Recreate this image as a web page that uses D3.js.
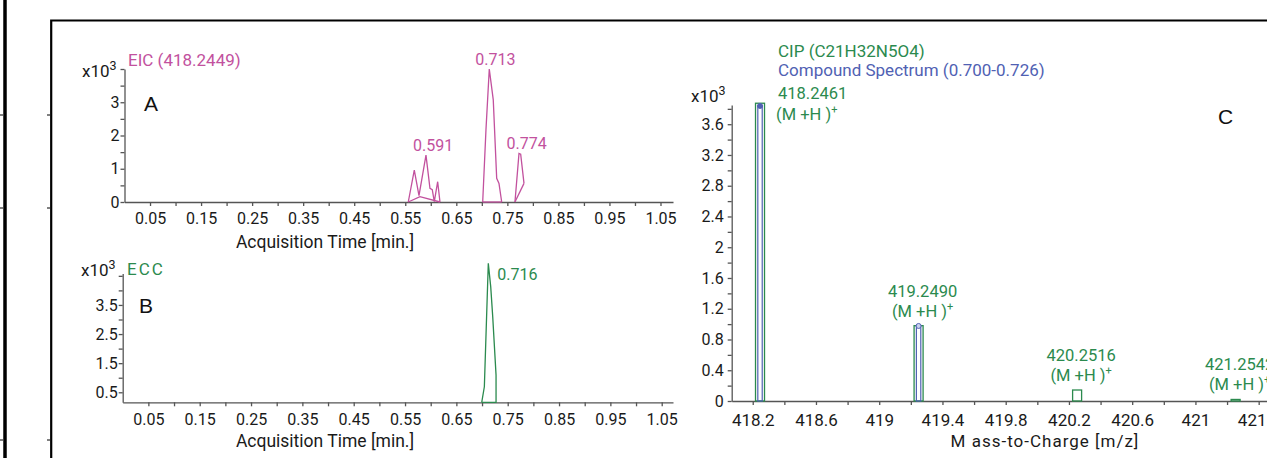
<!DOCTYPE html>
<html>
  <head>
    <meta charset="utf-8">
    <title>EIC / ECC / compound spectrum</title>
    <script src="https://cdn.jsdelivr.net/npm/d3@7"></script>
    <style>
body { margin: 0; background: #fff; }
text {
    font-family: Roboto, "Liberation Sans", sans-serif;
    fill: #1a1a1a;
}
.axis path, .axis line {
    stroke: #555;
    stroke-width: 1.3;
}
.axis text {
    font-size: 16px;
    fill: #1a1a1a;
}
.letter {
    font-family: "Liberation Sans", Arial, sans-serif;
    font-size: 21px;
    fill: #111;
}
    </style>
  </head>
  <body>
    <script>
// panel A: EIC (418.2449), [time, intensity x10^3]
var eicPeaks = [
  [[0.5559, 0], [0.5677, 0.96], [0.5769, 0.19], [0.5906, 1.41], [0.5984, 0.41],
   [0.6029, 0.37], [0.6069, 0.01], [0.6135, 0.61], [0.6180, 0]],
  [[0.7017, 0], [0.7081, 2.17], [0.7146, 4.0], [0.7224, 3.07], [0.7291, 0.71],
   [0.7336, 0.56], [0.7389, 0]],
  [[0.7649, 0], [0.7728, 1.46], [0.7761, 1.44], [0.7826, 0.56]]
];
var eicBaselines = [
  [[0.5559, 0], [0.5788, 0.16], [0.6180, 0]],
  [[0.7017, 0], [0.7389, 0]],
  [[0.7826, 0.56], [0.7649, 0]]
];
var eicLabelTimes = [0.591, 0.713, 0.774];
var eicLabelHeights = [1.41, 4.0, 1.46];

// panel B: ECC
var eccPeak = [[0.6994, 0.156], [0.7045, 0.69], [0.7122, 4.93], [0.7169, 4.13],
  [0.7208, 3.1], [0.7273, 1.09], [0.7273, 0.156], [0.6994, 0.156]];
var eccLabelTime = 0.716;
var eccLabelHeight = 4.93;

// panel C: spectrum
var mzValues = [418.2461, 419.2490, 420.2516, 421.2542];
var theoAbund = [3.873, 0.98, 0.143, 0.02];
var measAbund = [3.838, 0.976, null, null];

var timeTicks = d3.range(1, 22).map(function(i) { return +(i * 0.05).toFixed(2); });
var mzTicks = d3.range(0, 17).map(function(i) { return +(418.2 + i * 0.2).toFixed(1); });

var magenta = "#c2519e",
    green = "#2b8a4e",
    blue = "#5061b3";

var width = 1267,
    height = 458;

var svg = d3.select("body")
  .append("svg")
  .attr("width", width)
  .attr("height", height);

// page frame
svg.append("line")
  .attr("x1", 5).attr("x2", 5).attr("y1", 0).attr("y2", height)
  .attr("stroke", "#000").attr("stroke-width", 3.5);
svg.append("path")
  .attr("d", "M51.2," + height + "V20.5H" + width)
  .attr("fill", "none").attr("stroke", "#000").attr("stroke-width", 2.2);
[115, 208, 440].forEach(function(y) {
  svg.append("path")
    .attr("d", "M0," + y + "H3M47," + y + "H50")
    .attr("stroke", "#000").attr("stroke-width", 1);
});

function timeFormat(v) {
  return Math.round(v * 100) % 10 === 5 ? d3.format(".2f")(v) : "";
}

function x10(x, y) {
  var t = svg.append("text").attr("x", x).attr("y", y).style("font-size", "17px");
  t.append("tspan").text("x10");
  t.append("tspan").attr("dy", -7).style("font-size", "12.5px").text("3");
}

var lineA, lineB;

// ---- panel A
var xA = d3.scaleLinear().domain([0, 1.0745]).range([124.5, 673]);
var yA = d3.scaleLinear().domain([0, 4]).range([202, 69]);

svg.append("g").attr("class", "axis")
  .attr("transform", "translate(0," + yA(0) + ")")
  .call(d3.axisBottom(xA).tickValues(timeTicks).tickFormat(timeFormat)
    .tickSize(4).tickSizeOuter(0).tickPadding(7));
svg.append("g").attr("class", "axis")
  .attr("transform", "translate(" + xA(0) + ",0)")
  .call(d3.axisLeft(yA).tickValues(d3.range(0, 4.01, 0.5))
    .tickFormat(function(v) { return v % 1 === 0 && v < 4 ? v : ""; })
    .tickSize(4).tickSizeOuter(0).tickPadding(1));

lineA = d3.line().x(function(d) { return xA(d[0]); }).y(function(d) { return yA(d[1]); });
eicPeaks.concat(eicBaselines).forEach(function(p) {
  svg.append("path").attr("d", lineA(p))
    .attr("fill", "none").attr("stroke", magenta).attr("stroke-width", 1.3);
});
svg.selectAll(".eic-label").data(eicLabelTimes).join("text")
  .attr("x", function(d) { return xA(d) + 7; })
  .attr("y", function(d, i) { return yA(eicLabelHeights[i]) - 4; })
  .attr("text-anchor", "middle")
  .style("font-size", "16px").style("fill", magenta)
  .text(function(d) { return d3.format(".3f")(d); });

svg.append("text").attr("x", 128).attr("y", 66)
  .style("font-size", "17px").style("fill", magenta).text("EIC (418.2449)");
x10(82, 77);
svg.append("text").attr("class", "letter").attr("x", 144).attr("y", 111).text("A");
svg.append("text").attr("x", 325).attr("y", 248).attr("text-anchor", "middle")
  .style("font-size", "17.5px").text("Acquisition Time [min.]");

// ---- panel B
var xB = d3.scaleLinear().domain([0, 1.072]).range([122.7, 673]);
var yB = d3.scaleLinear().domain([0.156, 4.58]).range([402.3, 273.5]);

svg.append("g").attr("class", "axis")
  .attr("transform", "translate(0," + yB.range()[0] + ")")
  .call(d3.axisBottom(xB).tickValues(timeTicks).tickFormat(timeFormat)
    .tickSize(4).tickSizeOuter(0).tickPadding(7));
svg.append("g").attr("class", "axis")
  .attr("transform", "translate(" + xB(0) + ",0)")
  .call(d3.axisLeft(yB).tickValues(d3.range(0.5, 4.51, 0.5))
    .tickFormat(function(v) { return v % 1 === 0.5 && v < 4 ? v : ""; })
    .tickSize(4).tickSizeOuter(0).tickPadding(1));

lineB = d3.line().x(function(d) { return xB(d[0]); }).y(function(d) { return yB(d[1]); });
svg.append("path").attr("d", lineB(eccPeak))
  .attr("fill", "none").attr("stroke", green).attr("stroke-width", 1.3);
svg.append("text")
  .attr("x", xB(eccLabelTime) + 7).attr("y", yB(eccLabelHeight) + 17)
  .style("font-size", "16px").style("fill", green)
  .text(d3.format(".3f")(eccLabelTime));

svg.append("text").attr("x", 127).attr("y", 275)
  .style("font-size", "17px").style("fill", green).style("letter-spacing", "2px").text("ECC");
x10(81, 276);
svg.append("text").attr("class", "letter").attr("x", 139).attr("y", 313).text("B");
svg.append("text").attr("x", 325).attr("y", 447).attr("text-anchor", "middle")
  .style("font-size", "17.5px").text("Acquisition Time [min.]");

// ---- panel C
var xC = d3.scaleLinear().domain([418.067, 421.6]).range([731.7, 1290.3]);
var yC = d3.scaleLinear().domain([0, 3.85]).range([401, 105]);

svg.append("g").attr("class", "axis x-mz")
  .attr("transform", "translate(0," + yC(0) + ")")
  .call(d3.axisBottom(xC).tickValues(mzTicks)
    .tickFormat(function(v, i) { return i % 2 === 0 ? String(v) : ""; })
    .tickSize(4).tickSizeOuter(0).tickPadding(9));
svg.selectAll(".x-mz text").style("font-size", "17px");
svg.append("g").attr("class", "axis")
  .attr("transform", "translate(" + xC.range()[0] + ",0)")
  .call(d3.axisLeft(yC).tickValues(d3.range(0, 20).map(function(i) { return +(i * 0.2).toFixed(1); }))
    .tickFormat(function(v, i) { return i % 2 === 0 ? String(v) : ""; })
    .tickSize(4).tickSizeOuter(0).tickPadding(4));

svg.selectAll(".theo").data(mzValues).join("rect")
  .attr("class", "theo")
  .attr("x", function(d) { return xC(d) - 4.5; })
  .attr("width", 9)
  .attr("y", function(d, i) { return yC(theoAbund[i]); })
  .attr("height", function(d, i) { return yC(0) - yC(theoAbund[i]); })
  .attr("fill", "none").attr("stroke", green).attr("stroke-width", 1.3);

var measured = mzValues.map(function(d, i) { return [d, measAbund[i]]; })
  .filter(function(d) { return d[1] !== null; });
svg.selectAll(".meas").data(measured).join("rect")
  .attr("class", "meas")
  .attr("x", function(d) { return xC(d[0]) - 2.2; })
  .attr("width", 4.4)
  .attr("y", function(d) { return yC(d[1]); })
  .attr("height", function(d) { return yC(0) - yC(d[1]); })
  .attr("fill", "none").attr("stroke", blue).attr("stroke-width", 1.2);
svg.selectAll(".meas-dot").data(measured).join("circle")
  .attr("cx", function(d) { return xC(d[0]); })
  .attr("cy", function(d) { return yC(d[1]); })
  .attr("r", 2.5)
  .attr("fill", function(d, i) { return i === 0 ? blue : "#c9d0ee"; })
  .attr("stroke", blue).attr("stroke-width", 1);

mzValues.forEach(function(mz, i) {
  var first = i === 0;
  var x = first ? xC(mz) + 18 : xC(mz) + 4;
  var y2 = first ? yC(theoAbund[i]) + 17 : yC(theoAbund[i]) - 9;
  var anchor = first ? "start" : "middle";
  svg.append("text").attr("x", x).attr("y", y2 - (first ? 21 : 20))
    .attr("text-anchor", anchor)
    .style("font-size", "16.5px").style("fill", green)
    .text(mz.toFixed(4));
  var t = svg.append("text").attr("x", first ? x - 2 : x).attr("y", y2)
    .attr("text-anchor", anchor)
    .style("font-size", "16.5px").style("fill", green);
  t.append("tspan").text("(M +H )");
  t.append("tspan").attr("dy", -7).style("font-size", "11px").text("+");
});

svg.append("text").attr("x", 778).attr("y", 57)
  .style("font-size", "17px").style("fill", green).text("CIP (C21H32N5O4)");
svg.append("text").attr("x", 778).attr("y", 76)
  .style("font-size", "17px").style("fill", blue).text("Compound Spectrum (0.700-0.726)");
x10(691, 102);
svg.append("text").attr("class", "letter").attr("x", 1218).attr("y", 124).text("C");
svg.append("text").attr("x", 1045).attr("y", 447).attr("text-anchor", "middle")
  .style("font-size", "17px").style("letter-spacing", "1px").text("M ass-to-Charge [m/z]");
    </script>
  </body>
</html>
